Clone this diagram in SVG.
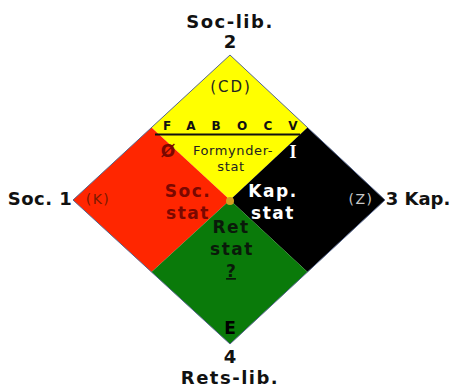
<svg xmlns="http://www.w3.org/2000/svg" width="453" height="387" viewBox="0 0 453 387">
<style>
.lbl{font-family:"DejaVu Sans",Verdana,sans-serif;font-weight:bold;font-size:18px;fill:#111;text-anchor:middle}
.in{font-family:"DejaVu Sans",Verdana,sans-serif;font-weight:bold;font-size:17px;letter-spacing:1.5px;text-anchor:middle}
.sm{font-family:"DejaVu Sans",Verdana,sans-serif;font-size:14px;fill:#222;text-anchor:middle}
.let{font-family:"DejaVu Sans",Verdana,sans-serif;font-weight:bold;font-size:12px;fill:#111;text-anchor:middle}
</style>
<rect width="453" height="387" fill="#ffffff"/>
<g id="quad-top">
<polygon points="230,55 307.5,127.5 230,200 151.5,127.5" fill="#ffff00"/>
<text class="sm" x="231" y="92" style="font-size:15px;letter-spacing:2px">(CD)</text>
<text class="let" x="167" y="130">F</text>
<text class="let" x="191" y="130">A</text>
<text class="let" x="216" y="130">B</text>
<text class="let" x="242" y="130">O</text>
<text class="let" x="268" y="130">C</text>
<text class="let" x="293" y="130">V</text>
<text class="sm" x="233" y="155" style="font-size:13px;letter-spacing:0.6px">Formynder-</text>
<text class="sm" x="231" y="171" style="font-size:13px;letter-spacing:0.6px">stat</text>
</g>
<g id="quad-left">
<polygon points="73,200 151.5,127.5 230,200 151.5,272" fill="#ff2600"/>
<text class="in" x="168" y="157" style="fill:#7a0800;letter-spacing:0">Ø</text>
<text class="in" x="188" y="197" style="fill:#7a0800">Soc.</text>
<text class="in" x="188" y="219" style="fill:#7a0800">stat</text>
</g>
<g id="quad-right">
<polygon points="307.5,127.5 385,200 307.5,272 230,200" fill="#000000"/>
<text x="293" y="158" style="font-family:'Liberation Serif',serif;font-weight:bold;font-size:18px;fill:#fff;text-anchor:middle">I</text>
<text class="in" x="273" y="197" style="fill:#ffffff">Kap.</text>
<text class="in" x="273" y="219" style="fill:#ffffff">stat</text>
</g>
<g id="quad-bottom">
<polygon points="230,200 307.5,272 230,344 151.5,272" fill="#0a7a0a"/>
<text class="in" x="231" y="233" style="fill:#0a1a0a">Ret</text>
<text class="in" x="232" y="255" style="fill:#0a1a0a">stat</text>
<text class="in" x="231" y="277" style="fill:#0a1a0a;letter-spacing:0;text-decoration:underline">?</text>
<text class="in" x="230" y="334" style="fill:#000;letter-spacing:0">E</text>
</g>
<g id="connectors">
<polygon points="230,55 385,200 230,344 73,200" fill="none" stroke="#56668e" stroke-width="1"/>
<line x1="155" y1="134.5" x2="300" y2="134.5" stroke="#111" stroke-width="2"/>
<circle cx="230" cy="201" r="4" fill="#d4a020"/>
</g>
<g id="label-top">
<text class="lbl" x="230" y="28" style="letter-spacing:1.5px">Soc-lib.</text>
<text class="lbl" x="230" y="48">2</text>
</g>
<g id="label-left">
<text class="lbl" x="40" y="205" style="letter-spacing:0.5px">Soc. 1</text>
<text class="sm" x="98" y="204" style="fill:#7a1a00;letter-spacing:1.5px">(K)</text>
</g>
<g id="label-right">
<text class="sm" x="361" y="204" style="fill:#c8c8c8;letter-spacing:1.5px">(Z)</text>
<text class="lbl" x="418" y="205">3 Kap.</text>
</g>
<g id="label-bottom">
<text class="lbl" x="230" y="363">4</text>
<text class="lbl" x="230" y="384" style="letter-spacing:1.5px">Rets-lib.</text>
</g>
</svg>
